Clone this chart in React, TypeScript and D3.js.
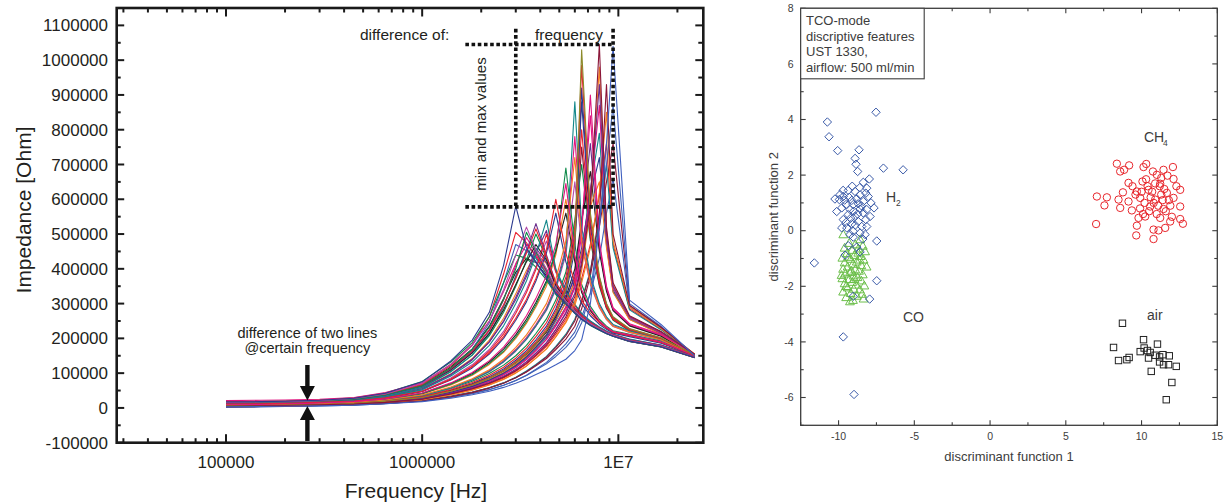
import React from 'react';
import * as d3 from 'd3';

// ---------- Left chart data: impedance (kOhm) vs frequency (Hz) ----------
const FREQ_HZ = [1e5, 1.5e5, 2e5, 3e5, 4.5e5, 6.5e5, 1e6, 1.4e6, 1.8e6, 2.2e6, 2.6e6, 3.0e6, 3.4e6, 3.8e6, 4.3e6, 4.8e6, 5.4e6, 6.0e6, 6.5e6, 7.2e6, 8.0e6, 8.7e6, 9.4e6, 1.14e7, 1.65e7, 2.45e7];

const Z_A1 = [17, 18, 19, 22, 28, 42, 75, 135, 195, 275, 410, 580, 460, 420, 375, 330, 300, 272, 255, 238, 224, 214, 207, 192, 176, 145];
const Z_A2 = [15, 16, 18, 21, 26, 39, 68, 122, 180, 262, 385, 505, 475, 435, 385, 335, 302, 276, 258, 240, 226, 216, 208, 193, 177, 146];
const Z_A3 = [14, 15, 16, 19, 25, 36, 62, 112, 168, 245, 360, 470, 452, 420, 372, 328, 298, 274, 256, 239, 225, 214, 206, 191, 176, 147];
const Z_A4 = [16, 17, 18, 21, 27, 40, 70, 125, 180, 250, 340, 440, 520, 455, 400, 345, 308, 280, 260, 242, 228, 217, 209, 194, 178, 146];
const Z_A5 = [13, 14, 16, 19, 24, 35, 60, 108, 160, 225, 310, 410, 490, 445, 392, 340, 305, 278, 258, 241, 227, 216, 208, 193, 177, 145];
const Z_A6 = [12, 13, 15, 18, 23, 34, 58, 104, 152, 212, 290, 380, 455, 430, 385, 338, 303, 276, 257, 240, 226, 215, 207, 192, 176, 146];
const Z_A7 = [15, 16, 17, 20, 26, 38, 66, 118, 170, 235, 315, 390, 430, 418, 380, 335, 300, 275, 256, 239, 225, 214, 206, 191, 175, 144];
const Z_A8 = [14, 15, 17, 20, 25, 37, 63, 112, 162, 222, 295, 375, 450, 530, 440, 360, 318, 288, 266, 246, 230, 219, 211, 196, 180, 148];
const Z_A9 = [13, 14, 16, 19, 24, 35, 59, 105, 152, 208, 275, 350, 425, 500, 430, 355, 315, 285, 264, 245, 229, 218, 210, 195, 179, 147];
const Z_A10 = [16, 17, 18, 21, 26, 38, 64, 110, 158, 215, 282, 355, 420, 470, 425, 352, 312, 283, 262, 244, 228, 217, 209, 194, 178, 146];
const Z_A11 = [12, 13, 14, 17, 22, 32, 55, 98, 142, 195, 258, 328, 395, 445, 415, 350, 310, 282, 261, 243, 227, 216, 208, 193, 177, 145];
const Z_A12 = [11, 12, 14, 17, 21, 31, 52, 92, 132, 180, 236, 300, 365, 440, 540, 400, 335, 298, 272, 250, 233, 221, 212, 198, 181, 149];
const Z_A13 = [13, 14, 15, 18, 23, 33, 56, 97, 140, 190, 248, 312, 378, 445, 510, 395, 332, 296, 270, 249, 232, 220, 211, 197, 180, 148];
const Z_A14 = [10, 11, 13, 16, 20, 29, 49, 86, 124, 168, 220, 280, 340, 405, 480, 390, 330, 295, 269, 248, 231, 219, 210, 196, 179, 147];
const Z_A15 = [10, 11, 12, 15, 19, 28, 47, 80, 115, 155, 200, 252, 305, 365, 445, 560, 420, 345, 300, 265, 240, 226, 215, 205, 186, 150];
const Z_A16 = [11, 12, 13, 16, 20, 29, 48, 82, 118, 158, 205, 258, 312, 372, 455, 600, 445, 360, 310, 272, 245, 230, 218, 208, 188, 151];
const Z_A17 = [18, 19, 20, 23, 29, 43, 76, 132, 188, 262, 360, 440, 430, 405, 368, 326, 297, 272, 254, 237, 223, 213, 206, 191, 175, 144];
const Z_A18 = [21, 22, 23, 25, 30, 44, 72, 126, 182, 250, 335, 415, 470, 440, 392, 338, 304, 278, 258, 240, 226, 215, 207, 192, 176, 145];
const Z_A19 = [17, 18, 19, 22, 27, 39, 66, 114, 164, 224, 296, 372, 445, 515, 435, 358, 316, 286, 265, 245, 229, 218, 210, 195, 179, 147];
const Z_A20 = [15, 16, 17, 20, 25, 37, 64, 115, 168, 232, 312, 400, 505, 450, 396, 342, 306, 279, 259, 241, 227, 216, 208, 193, 177, 146];
const Z_A21 = [11, 12, 13, 16, 21, 31, 53, 95, 138, 190, 250, 318, 385, 460, 418, 350, 310, 282, 261, 243, 227, 216, 208, 193, 177, 145];
const Z_A22 = [9, 10, 12, 15, 19, 28, 47, 83, 120, 163, 213, 272, 332, 398, 500, 392, 330, 295, 269, 248, 231, 219, 210, 196, 179, 147];

const Z_M1 = [9, 10, 11, 14, 18, 26, 43, 72, 102, 136, 175, 218, 265, 315, 380, 470, 645, 440, 340, 285, 250, 232, 220, 210, 190, 150];
const Z_M2 = [8, 9, 10, 13, 17, 24, 40, 66, 94, 125, 160, 200, 243, 290, 350, 440, 600, 430, 335, 282, 248, 230, 218, 209, 189, 149];
const Z_M3 = [9, 10, 11, 13, 17, 25, 41, 68, 96, 128, 163, 204, 248, 296, 360, 455, 690, 470, 355, 292, 255, 235, 222, 212, 192, 151];
const Z_M4 = [8, 9, 10, 12, 16, 23, 37, 60, 84, 110, 140, 174, 210, 250, 300, 370, 480, 720, 480, 360, 290, 255, 235, 218, 196, 151];
const Z_M5 = [7, 8, 9, 12, 15, 22, 35, 57, 80, 105, 133, 165, 198, 236, 283, 345, 450, 880, 520, 380, 300, 262, 240, 222, 198, 152];
const Z_M6 = [8, 9, 10, 12, 16, 23, 36, 58, 82, 107, 136, 168, 202, 240, 288, 352, 460, 780, 500, 370, 295, 258, 237, 220, 197, 151];
const Z_M7 = [9, 10, 11, 13, 17, 25, 42, 70, 99, 132, 169, 210, 255, 303, 365, 450, 560, 420, 332, 280, 247, 230, 218, 209, 189, 149];
const Z_M8 = [7, 8, 9, 11, 15, 22, 35, 57, 80, 104, 132, 163, 197, 235, 280, 340, 440, 650, 470, 355, 288, 254, 234, 217, 195, 150];

const Z_B1 = [6, 7, 8, 10, 13, 19, 30, 48, 66, 85, 106, 130, 156, 185, 222, 270, 340, 470, 1030, 560, 380, 300, 262, 228, 202, 152];
const Z_B2 = [6, 7, 8, 10, 13, 19, 31, 49, 67, 87, 108, 133, 160, 190, 228, 278, 350, 490, 985, 540, 370, 295, 258, 226, 200, 151];
const Z_B3 = [7, 8, 9, 11, 14, 20, 32, 51, 70, 90, 112, 137, 165, 196, 235, 285, 360, 500, 880, 520, 365, 292, 256, 225, 199, 150];
const Z_B4 = [7, 8, 9, 11, 14, 21, 33, 53, 73, 94, 117, 143, 172, 205, 245, 298, 375, 520, 800, 500, 358, 290, 255, 224, 198, 150];
const Z_B5 = [8, 9, 10, 12, 15, 22, 35, 56, 77, 99, 123, 150, 180, 214, 256, 310, 390, 540, 700, 480, 350, 286, 252, 222, 197, 149];
const Z_B6 = [5, 6, 7, 9, 12, 17, 27, 43, 59, 76, 95, 116, 139, 165, 197, 238, 290, 370, 520, 840, 470, 345, 285, 240, 210, 153];
const Z_B7 = [6, 7, 8, 10, 13, 18, 29, 46, 63, 81, 101, 123, 147, 174, 207, 250, 305, 385, 530, 760, 460, 340, 282, 238, 208, 152];
const Z_B8 = [7, 8, 9, 11, 14, 20, 31, 49, 67, 86, 107, 130, 155, 183, 218, 262, 318, 400, 540, 680, 450, 335, 280, 236, 206, 151];
const Z_B9 = [5, 6, 7, 9, 11, 16, 25, 40, 55, 71, 88, 107, 128, 152, 181, 218, 262, 320, 410, 580, 1045, 520, 360, 265, 220, 154];
const Z_B10 = [5, 6, 7, 9, 12, 17, 26, 42, 57, 73, 91, 111, 133, 158, 188, 226, 272, 330, 420, 600, 930, 500, 350, 262, 218, 153];
const Z_B11 = [6, 7, 8, 10, 12, 18, 28, 44, 60, 77, 96, 117, 140, 166, 197, 236, 284, 345, 435, 620, 870, 490, 345, 260, 216, 152];
const Z_B12 = [6, 7, 8, 10, 13, 18, 28, 45, 62, 79, 98, 120, 143, 170, 202, 242, 290, 352, 445, 630, 790, 480, 340, 258, 215, 152];
const Z_B13 = [7, 8, 9, 11, 14, 20, 31, 49, 67, 86, 107, 131, 157, 186, 221, 263, 314, 375, 460, 610, 720, 470, 335, 255, 213, 151];
const Z_B14 = [4, 5, 6, 8, 11, 15, 24, 38, 52, 67, 83, 101, 121, 143, 170, 204, 245, 295, 360, 460, 620, 850, 480, 290, 228, 155];
const Z_B15 = [5, 6, 7, 9, 11, 16, 25, 40, 54, 69, 86, 105, 126, 149, 177, 212, 255, 306, 372, 470, 610, 760, 470, 285, 226, 154];
const Z_B16 = [3, 4, 5, 6, 8, 12, 18, 28, 38, 48, 59, 71, 83, 96, 110, 124, 140, 165, 196, 300, 520, 760, 1040, 310, 240, 150];
const Z_B17 = [4, 5, 6, 7, 9, 13, 20, 31, 42, 53, 65, 79, 93, 109, 127, 148, 174, 205, 245, 330, 530, 700, 870, 300, 235, 149];
const Z_B18 = [4, 5, 6, 8, 10, 14, 22, 34, 46, 58, 72, 87, 103, 121, 142, 168, 198, 235, 285, 380, 520, 650, 760, 295, 232, 150];
const Z_B19 = [5, 6, 7, 9, 12, 18, 28, 45, 62, 80, 100, 122, 147, 175, 210, 256, 325, 455, 920, 530, 375, 298, 260, 227, 201, 151];
const Z_B20 = [6, 7, 8, 10, 13, 19, 30, 48, 66, 85, 106, 129, 155, 184, 220, 268, 340, 480, 750, 490, 355, 288, 254, 223, 198, 150];
const Z_B21 = [4, 5, 6, 8, 11, 16, 25, 40, 55, 71, 89, 109, 131, 156, 186, 225, 275, 352, 500, 900, 480, 350, 288, 242, 212, 154];
const Z_B22 = [4, 5, 6, 8, 10, 15, 23, 37, 51, 66, 82, 100, 120, 143, 170, 205, 248, 305, 395, 570, 980, 510, 355, 263, 219, 154];
const Z_B23 = [6, 7, 8, 10, 13, 19, 30, 47, 64, 82, 102, 125, 150, 178, 211, 252, 302, 362, 448, 580, 650, 460, 332, 254, 212, 151];
const Z_B24 = [3, 4, 5, 7, 9, 13, 21, 33, 45, 58, 72, 88, 106, 125, 148, 177, 212, 255, 310, 395, 540, 700, 460, 282, 225, 153];
const Z_B25 = [2, 3, 4, 6, 8, 12, 19, 30, 41, 52, 65, 79, 94, 111, 131, 155, 184, 218, 262, 330, 430, 560, 660, 290, 230, 149];
const Z_B26 = [3, 4, 5, 7, 9, 13, 20, 32, 44, 57, 71, 87, 104, 123, 146, 174, 208, 250, 305, 390, 560, 930, 500, 295, 232, 154];

const IMPEDANCE_SERIES = [
  Z_A7, Z_B5, Z_A2, Z_B12, Z_A5, Z_M2, Z_B7, Z_A9, Z_B13, Z_A11,
  Z_B3, Z_M6, Z_A13, Z_B15, Z_A6, Z_B8, Z_A14, Z_B18, Z_A3, Z_B6,
  Z_A17, Z_B20, Z_A18, Z_B23, Z_M7, Z_A21, Z_B25, Z_A22, Z_B24, Z_M8,
  Z_A10, Z_B4, Z_M3, Z_A12, Z_B14, Z_A15, Z_B11, Z_A8, Z_B17, Z_M5,
  Z_A19, Z_B19, Z_A20, Z_B21, Z_B22, Z_B26,
  Z_A16, Z_A4, Z_M4, Z_B10, Z_M1, Z_B2, Z_B1, Z_B9, Z_B16, Z_A1,
];
const LINE_COLORS = [
  '#231f20', '#0f8a4a', '#e8212e', '#12878a', '#e0157f', '#f47b20', '#6a2c8c', '#0f8a4a', '#2b3a8f', '#f47b20',
  '#2b3a8f', '#e0157f', '#6a2c8c', '#e8212e', '#12878a', '#231f20', '#b34aa8', '#8a1538', '#4063b8', '#e0157f',
  '#0f8a4a', '#8a1538', '#e0157f', '#f47b20', '#231f20', '#6a2c8c', '#4063b8', '#e8212e', '#12878a', '#b34aa8',
  '#231f20', '#e8212e', '#0f8a4a', '#12878a', '#f47b20', '#2b3a8f', '#e0157f', '#6a2c8c', '#4063b8', '#12878a',
  '#e8212e', '#2b3a8f', '#0f8a4a', '#e0157f', '#f47b20', '#8a1538',
  '#e8212e', '#b34aa8', '#f47b20', '#6a2c8c', '#e0157f', '#e8212e', '#8c8a2a', '#8a1538', '#3f5fbf', '#2b3a8f',
];

const Y_TICKS_L = [-100000, 0, 100000, 200000, 300000, 400000, 500000, 600000, 700000, 800000, 900000, 1000000, 1100000];
const X_TICKS_L = [1e5, 1e6, 1e7];
const X_TICK_LABELS_L = ['100000', '1000000', '1E7'];

// annotation anchors (data units)
const ARROW_FREQ = 2.6e5;
const BOX_F_LEFT = 3.0e6;
const BOX_F_RIGHT = 9.4e6;
const BOX_F_START = 1.66e6;
const BOX_Z_TOP = 1045000;
const BOX_Z_BOTTOM = 578000;
const BOX_Z_VTOP = 1090000;

// ---------- Right chart data: discriminant functions ----------
const H2_PTS = [
  [-10.74, 3.91], [-10.63, 3.38], [-10.06, 2.88], [-7.53, 4.26], [-8.65, 2.91], [-8.91, 2.6], [-8.85, 2.39], [-8.74, 2.13],
  [-7.04, 2.25], [-5.74, 2.19], [-7.97, 1.86], [-8.37, 1.74], [-8.14, 1.53], [-9.36, 1.45], [-8.91, 1.41], [-9.69, 1.23],
  [-8.58, 1.29], [-8.04, 1.23], [-10.24, 1.14], [-9.95, 1.12], [-9.13, 1.09], [-8.37, 1.05], [-7.86, 1.0], [-9.51, 0.94],
  [-9.03, 0.94], [-8.7, 0.97], [-7.66, 0.82], [-9.79, 0.82], [-9.24, 0.76], [-8.58, 0.78], [-8.14, 0.76], [-10.12, 0.69],
  [-9.36, 0.58], [-8.91, 0.51], [-8.37, 0.64], [-7.92, 0.51], [-9.69, 0.4], [-8.7, 0.33], [-9.13, 0.25], [-8.47, 0.15],
  [-9.79, 0.1], [-9.46, 0.1], [-8.14, 0.15], [-9.03, -0.02], [-8.58, -0.08], [-8.25, -0.14], [-9.24, -0.14], [-9.03, -0.23],
  [-7.48, -0.37], [-9.36, -0.54], [-8.8, -0.59], [-8.58, -0.76], [-9.57, -0.88], [-11.6, -1.16], [-7.48, -1.8], [-9.03, -2.36],
  [-7.95, -2.46], [-9.69, -3.82], [-8.98, -5.89], [-9.9, 1.3], [-9.1, 1.6], [-8.6, 1.55], [-8.2, 1.35], [-9.6, 1.1],
  [-8.8, 1.15], [-9.3, 1.2], [-8.5, 0.9], [-9.0, 0.7], [-8.2, 0.4], [-9.5, 0.3], [-8.9, 0.2], [-8.4, -0.3],
  [-9.7, 1.45], [-9.2, 0.45], [-8.75, 0.6],
];
const CO_PTS = [
  [-9.69, -0.14], [-8.58, -0.32], [-9.3, -0.45], [-8.9, -0.5], [-9.6, -0.62], [-9.1, -0.7], [-8.7, -0.65], [-8.4, -0.55],
  [-9.45, -0.82], [-8.95, -0.88], [-8.55, -0.92], [-9.75, -0.98], [-9.2, -1.02], [-8.35, -1.05], [-9.6, -1.15], [-8.8, -1.12],
  [-9.05, -1.2], [-8.5, -1.25], [-9.4, -1.3], [-8.15, -1.3], [-9.7, -1.38], [-8.9, -1.4], [-8.65, -1.45], [-9.25, -1.5],
  [-9.55, -1.55], [-8.4, -1.58], [-9.0, -1.62], [-8.75, -1.68], [-9.75, -1.72], [-9.3, -1.75], [-8.5, -1.8], [-9.1, -1.85],
  [-9.6, -1.9], [-8.85, -1.95], [-8.3, -1.98], [-9.4, -2.05], [-9.0, -2.1], [-8.6, -2.12], [-9.7, -2.2], [-9.2, -2.25],
  [-8.45, -2.28], [-8.8, -2.35], [-9.5, -2.4], [-9.05, -2.5], [-8.7, -0.8], [-9.35, -0.95], [-8.25, -0.75], [-9.8, -1.6],
  [-9.15, -1.45], [-8.6, -1.05], [-9.5, -2.0], [-8.95, -1.75], [-9.25, -2.55], [-8.35, -2.45],
];
const CH4_PTS = [
  [7.05, 1.23], [7.0, 0.24], [7.71, 1.2], [7.55, 0.91], [8.37, 2.41], [8.59, 2.13], [8.85, 2.19], [9.18, 2.35],
  [10.31, 2.4], [10.13, 2.29], [10.75, 2.13], [11.01, 2.01], [11.45, 2.19], [12.07, 2.29], [11.71, 1.98], [12.11, 1.86],
  [9.14, 1.72], [10.06, 1.77], [11.23, 1.69], [12.55, 1.47], [8.77, 1.38], [9.69, 1.41], [10.46, 1.47], [11.67, 1.36],
  [8.48, 1.12], [9.14, 1.05], [9.91, 1.18], [10.9, 1.12], [12.11, 1.18], [8.59, 0.82], [9.36, 0.73], [10.57, 0.87],
  [11.45, 0.78], [12.55, 0.87], [9.8, 0.46], [10.24, 0.51], [11.23, 0.46], [11.89, 0.33], [12.55, 0.42], [12.73, 0.25],
  [9.69, 0.18], [10.79, 0.04], [11.12, 0.01], [11.56, 0.1], [9.65, -0.17], [10.79, -0.3], [10.4, 1.6], [10.9, 1.7],
  [11.3, 1.3], [10.6, 1.2], [11.1, 0.9], [10.2, 1.0], [11.8, 1.1], [11.5, 1.5], [10.7, 1.4], [11.0, 0.6],
  [11.6, 0.7], [9.4, 1.6], [9.9, 0.8], [10.0, 1.4], [12.3, 1.6], [11.9, 0.9], [10.5, 0.7], [11.3, 1.9],
  [9.6, 1.3], [12.0, 0.5], [10.3, 1.85], [10.8, 1.0], [11.4, 1.1], [11.2, 1.6], [10.1, 0.6],
];
const AIR_PTS = [
  [8.74, -3.33], [8.15, -4.2], [8.48, -4.67], [9.03, -4.64], [9.18, -4.56], [10.13, -3.92], [11.05, -4.08], [9.91, -4.35],
  [10.17, -4.22], [10.39, -4.31], [10.57, -4.38], [10.46, -4.58], [10.9, -4.48], [11.19, -4.54], [11.19, -4.72], [11.41, -4.46],
  [11.45, -4.82], [11.83, -4.5], [11.78, -4.82], [12.29, -4.88], [10.64, -5.06], [12.0, -5.46], [11.63, -6.08],
];
const X_TICKS_R = [-10, -5, 0, 5, 10, 15];
const Y_TICKS_R = [-6, -4, -2, 0, 2, 4, 6, 8];
const LEGEND_LINES = ['TCO-mode', 'discriptive features', 'UST 1330,', 'airflow: 500 ml/min'];

const FONT = 'Liberation Sans, Arial, Helvetica, sans-serif';

export default function App() {
  // left chart geometry
  const L = { x0: 116.7, x1: 703.3, y0: 8, y1: 442.7 };
  const xL = d3.scaleLog().domain([27730, 2.71e7]).range([L.x0, L.x1]);
  const yL = d3.scaleLinear().domain([-100000, 1150000]).range([L.y1, L.y0]);
  const lineGen = d3.line<number>().x((_, i) => xL(FREQ_HZ[i])).y((d) => yL(d * 1000));

  const logTicks = xL.ticks();
  const isDecade = (v: number) => Math.abs(Math.log10(v) - Math.round(Math.log10(v))) < 1e-6;
  const yMinor = d3.range(-100000, 1150001, 50000);

  // right chart geometry
  const R = { x0: 800.7, x1: 1217.3, y0: 8.3, y1: 425.3 };
  const xR = d3.scaleLinear().domain([-12.5, 15]).range([R.x0, R.x1]);
  const yR = d3.scaleLinear().domain([-7, 8]).range([R.y1, R.y0]);
  const xMinorR = d3.range(-12.5, 15.01, 2.5);
  const yMinorR = d3.range(-7, 8.01, 1);

  const ax = xL(ARROW_FREQ);
  const boxL = xL(BOX_F_LEFT), boxR = xL(BOX_F_RIGHT), boxS = xL(BOX_F_START);
  const boxT = yL(BOX_Z_TOP), boxB = yL(BOX_Z_BOTTOM), boxVT = yL(BOX_Z_VTOP);
  const dotted = { stroke: '#111', strokeWidth: 3.6, strokeDasharray: '3.6 2.6', fill: 'none' } as const;

  const rc = '#3c3c3c';

  return (
    <svg width={1224} height={503} style={{ position: 'absolute', left: 0, top: 0, background: '#fff' }} fontFamily={FONT}>
      <rect x={0} y={0} width={1224} height={503} fill="#fff" />
      {/* ================= LEFT CHART ================= */}
      <g>
        {IMPEDANCE_SERIES.map((s, i) => (
          <path key={i} d={lineGen(s) || ''} fill="none" stroke={LINE_COLORS[i]} strokeWidth={1.1} strokeLinejoin="round" />
        ))}
        {/* frame */}
        <rect x={L.x0} y={L.y0} width={L.x1 - L.x0} height={L.y1 - L.y0} fill="none" stroke="#1a1a1a" strokeWidth={2.6} />
        {/* y ticks left & right */}
        {yMinor.map((v) => {
          const major = v % 100000 === 0;
          const y = yL(v);
          return (
            <g key={'yt' + v} stroke="#1a1a1a" strokeWidth={2}>
              <line x1={L.x0} x2={L.x0 + (major ? 7.5 : 4)} y1={y} y2={y} />
              <line x1={L.x1} x2={L.x1 - (major ? 8 : 5)} y1={y} y2={y} />
            </g>
          );
        })}
        {/* x ticks top & bottom */}
        {logTicks.map((v) => {
          const major = isDecade(v);
          const x = xL(v);
          return (
            <g key={'xt' + v} stroke="#1a1a1a" strokeWidth={2}>
              <line x1={x} x2={x} y1={L.y1} y2={L.y1 - (major ? 8.5 : 4.5)} />
              <line x1={x} x2={x} y1={L.y0} y2={L.y0 + (major ? 8.5 : 4.5)} />
            </g>
          );
        })}
        {/* tick labels */}
        {Y_TICKS_L.map((v) => (
          <text key={'yl' + v} x={108} y={yL(v) + 6.1} textAnchor="end" fontSize={17} fill="#231f20">{v}</text>
        ))}
        {X_TICKS_L.map((v, i) => (
          <text key={'xl' + v} x={xL(v)} y={467.5} textAnchor="middle" fontSize={17} fill="#231f20">{X_TICK_LABELS_L[i]}</text>
        ))}
        {/* axis titles */}
        <text transform="translate(31,210) rotate(-90)" textAnchor="middle" fontSize={21} fill="#231f20">Impedance [Ohm]</text>
        <text x={416} y={498} textAnchor="middle" fontSize={21} fill="#231f20">Frequency [Hz]</text>

        {/* annotation: dotted box */}
        <line x1={boxS} x2={boxR} y1={boxT} y2={boxT} {...dotted} />
        <line x1={boxS} x2={boxR} y1={boxB} y2={boxB} {...dotted} />
        <line x1={boxL} x2={boxL} y1={boxVT} y2={boxB} {...dotted} />
        <line x1={boxR} x2={boxR} y1={boxVT} y2={boxB} {...dotted} />
        <text x={360} y={40} fontSize={15.5} fill="#231f20">difference of:</text>
        <text x={535} y={40} fontSize={15.5} fill="#231f20">frequency</text>
        <text transform={`translate(486,124) rotate(-90)`} textAnchor="middle" fontSize={15} fill="#231f20">min and max values</text>

        {/* annotation: arrows */}
        <text x={ax} y={338} textAnchor="middle" fontSize={14.5} fill="#231f20">difference of two lines</text>
        <text x={ax} y={353} textAnchor="middle" fontSize={14.5} fill="#231f20">@certain frequency</text>
        <path d={`M${ax - 2.2},365 L${ax + 2.2},365 L${ax + 2.2},386 L${ax + 7.5},386 L${ax},400.5 L${ax - 7.5},386 L${ax - 2.2},386 Z`} fill="#111" />
        <path d={`M${ax - 2.2},441 L${ax + 2.2},441 L${ax + 2.2},420 L${ax + 7.5},420 L${ax},406 L${ax - 7.5},420 L${ax - 2.2},420 Z`} fill="#111" />
      </g>

      {/* ================= RIGHT CHART ================= */}
      <g>
        {/* frame */}
        <rect x={R.x0} y={R.y0} width={R.x1 - R.x0} height={R.y1 - R.y0} fill="none" stroke={rc} strokeWidth={1.3} />
        {xMinorR.map((v) => {
          const major = Math.abs(v % 5) < 1e-9;
          const x = xR(v);
          return (
            <g key={'rxt' + v} stroke={rc} strokeWidth={1.1}>
              <line x1={x} x2={x} y1={R.y1} y2={R.y1 - (major ? 5 : 3)} />
              <line x1={x} x2={x} y1={R.y0} y2={R.y0 + (major ? 5 : 3)} />
            </g>
          );
        })}
        {yMinorR.map((v) => {
          const major = Math.abs(v % 2) < 1e-9;
          const y = yR(v);
          return (
            <g key={'ryt' + v} stroke={rc} strokeWidth={1.1}>
              <line x1={R.x0} x2={R.x0 + (major ? 5 : 3)} y1={y} y2={y} />
              <line x1={R.x1} x2={R.x1 - (major ? 5 : 3)} y1={y} y2={y} />
            </g>
          );
        })}
        {X_TICKS_R.map((v) => (
          <text key={'rxl' + v} x={xR(v)} y={440} textAnchor="middle" fontSize={10.5} fill={rc}>{v}</text>
        ))}
        {Y_TICKS_R.map((v) => (
          <text key={'ryl' + v} x={793.5} y={yR(v) + 3.7} textAnchor="end" fontSize={10.5} fill={rc}>{v}</text>
        ))}
        <text x={(R.x0 + R.x1) / 2} y={461} textAnchor="middle" fontSize={13} fill={rc}>discriminant function 1</text>
        <text transform={`translate(778,${(R.y0 + R.y1) / 2}) rotate(-90)`} textAnchor="middle" fontSize={13} fill={rc}>discriminant function 2</text>

        {/* points */}
        {CO_PTS.map(([x, y], i) => {
          const cx = xR(x), cy = yR(y);
          return <path key={'co' + i} d={`M${cx},${cy - 4.6} L${cx + 4.4},${cy + 3.2} L${cx - 4.4},${cy + 3.2} Z`} fill="none" stroke="#6cbf4a" strokeWidth={1} />;
        })}
        {H2_PTS.map(([x, y], i) => {
          const cx = xR(x), cy = yR(y);
          return <path key={'h2' + i} d={`M${cx},${cy - 4.2} L${cx + 4.2},${cy} L${cx},${cy + 4.2} L${cx - 4.2},${cy} Z`} fill="none" stroke="#3a5aa8" strokeWidth={1} />;
        })}
        {CH4_PTS.map(([x, y], i) => (
          <circle key={'ch' + i} cx={xR(x)} cy={yR(y)} r={3.7} fill="none" stroke="#e8262c" strokeWidth={1} />
        ))}
        {AIR_PTS.map(([x, y], i) => (
          <rect key={'air' + i} x={xR(x) - 3.2} y={yR(y) - 3.2} width={6.4} height={6.4} fill="none" stroke="#222" strokeWidth={1} />
        ))}

        {/* class labels */}
        <text x={886} y={201.7} fontSize={14} fill={rc}>H</text>
        <text x={896} y={205.5} fontSize={8.5} fill={rc}>2</text>
        <text x={1144} y={141.7} fontSize={14} fill={rc}>CH</text>
        <text x={1163} y={145.5} fontSize={8.5} fill={rc}>4</text>
        <text x={903} y={321.7} fontSize={14} fill={rc}>CO</text>
        <text x={1147} y={320} fontSize={14} fill={rc}>air</text>

        {/* legend box */}
        <rect x={R.x0} y={R.y0} width={123.5} height={70.5} fill="#fff" stroke={rc} strokeWidth={1.1} />
        {LEGEND_LINES.map((t, i) => (
          <text key={'lg' + i} x={806} y={24.8 + i * 15.8} fontSize={13} fill={rc}>{t}</text>
        ))}
      </g>
    </svg>
  );
}
